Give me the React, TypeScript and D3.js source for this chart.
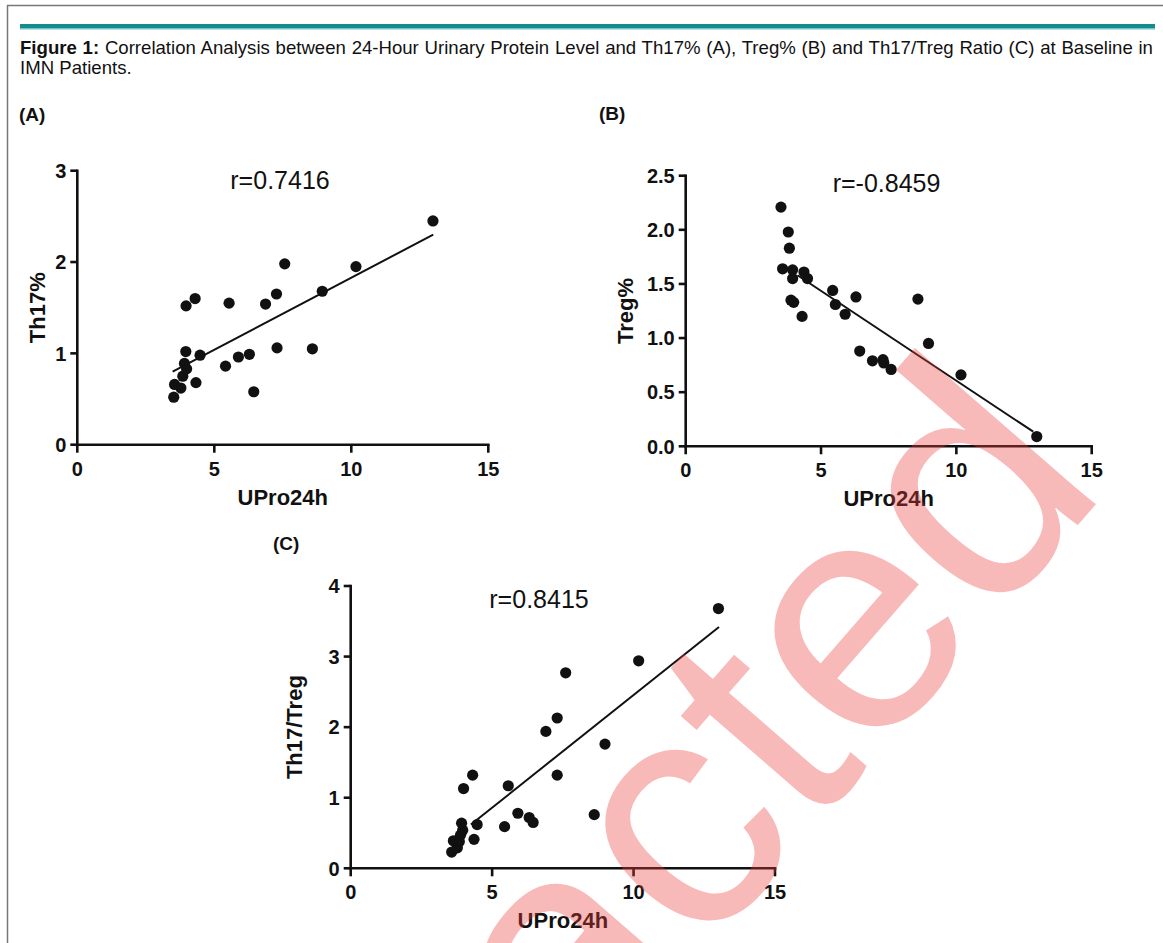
import React from "react";
import * as d3 from "d3";

// ---------- data ----------
const xTicks = [0, 5, 10, 15];

const aTicks = [0, 1, 2, 3];
const aX = [3.52, 3.55, 3.78, 3.85, 3.91, 3.99, 3.96, 3.97, 4.3, 4.33, 4.48, 5.41, 5.54, 5.88, 6.28, 6.44, 6.87, 7.27, 7.29, 7.57, 8.58, 8.94, 10.17, 12.98];
const aY = [0.52, 0.66, 0.62, 0.75, 0.89, 0.83, 1.02, 1.52, 1.6, 0.68, 0.98, 0.86, 1.55, 0.96, 0.99, 0.58, 1.54, 1.65, 1.06, 1.98, 1.05, 1.68, 1.95, 2.45];
const aFitX = [3.48, 12.99];
const aFitY = [0.8, 2.3];

const bTicks = [0, 0.5, 1.0, 1.5, 2.0, 2.5];
const bX = [3.52, 3.79, 3.83, 3.58, 3.95, 3.95, 3.89, 3.99, 4.37, 4.5, 4.3, 5.43, 5.53, 5.89, 6.29, 6.43, 6.9, 7.29, 7.32, 7.59, 8.58, 8.97, 10.17, 12.97];
const bY = [2.21, 1.98, 1.83, 1.64, 1.63, 1.55, 1.35, 1.33, 1.61, 1.55, 1.2, 1.44, 1.31, 1.22, 1.38, 0.88, 0.79, 0.8, 0.77, 0.71, 1.36, 0.95, 0.66, 0.09];
const bFitX = [4.13, 12.84];
const bFitY = [1.58, 0.135];

const cTicks = [0, 1, 2, 3, 4];
const cX = [3.57, 3.63, 3.77, 3.84, 3.92, 3.96, 3.88, 3.99, 4.31, 4.36, 4.47, 5.44, 5.57, 5.91, 6.31, 6.45, 6.9, 7.3, 7.3, 7.6, 8.61, 8.99, 10.18, 13.0];
const cY = [0.23, 0.39, 0.29, 0.38, 0.64, 0.54, 0.47, 1.13, 1.32, 0.41, 0.62, 0.59, 1.17, 0.78, 0.72, 0.65, 1.94, 2.13, 1.32, 2.77, 0.76, 1.76, 2.94, 3.68];
const cFitX = [4.25, 13.02];
const cFitY = [0.62, 3.42];

const captionBold = "Figure 1:";
const captionLine1 = " Correlation Analysis between 24-Hour Urinary Protein Level and Th17% (A), Treg% (B) and Th17/Treg Ratio (C) at Baseline in";
const captionLine2 = "IMN Patients.";

const FONT = "'Liberation Sans', Arial, Helvetica, sans-serif";

type PanelProps = {
  left: number; right: number; top: number; bottom: number;
  yMax: number; yTicks: number[]; yFmt: (v: number) => string;
  xs: number[]; ys: number[]; fitX: number[]; fitY: number[];
  yTitle: string; yTitleOffset: number;
  rText: string; rX: number; rY: number;
};

function Panel(p: PanelProps) {
  const x = d3.scaleLinear().domain([0, 15]).range([p.left, p.right]);
  const y = d3.scaleLinear().domain([0, p.yMax]).range([p.bottom, p.top]);
  const line = d3.line<[number, number]>().x((d) => x(d[0])).y((d) => y(d[1]));
  const fitPts: [number, number][] = p.fitX.map((v, i) => [v, p.fitY[i]]);
  const sw = 2.6;
  return (
    <g fontFamily={FONT}>
      <line x1={x(0)} x2={x(0)} y1={y(0) + sw / 2} y2={y(p.yMax) - sw / 2} stroke="#111" strokeWidth={sw} />
      <line x1={x(0) - sw / 2} x2={x(15) + sw / 2} y1={y(0)} y2={y(0)} stroke="#111" strokeWidth={sw} />
      {p.yTicks.map((t) => (
        <g key={"y" + t}>
          <line x1={x(0) - 7} x2={x(0)} y1={y(t)} y2={y(t)} stroke="#111" strokeWidth={sw} />
          <text x={x(0) - 11} y={y(t)} dy="0.36em" textAnchor="end" fontSize={20} fontWeight="bold" fill="#111">
            {p.yFmt(t)}
          </text>
        </g>
      ))}
      {xTicks.map((t) => (
        <g key={"x" + t}>
          <line x1={x(t)} x2={x(t)} y1={y(0)} y2={y(0) + 8} stroke="#111" strokeWidth={sw} />
          <text x={x(t)} y={y(0) + 31} textAnchor="middle" fontSize={20} fontWeight="bold" fill="#111">
            {t}
          </text>
        </g>
      ))}
      <text x={(x(0) + x(15)) / 2} y={y(0) + 60} textAnchor="middle" fontSize={22} fontWeight="bold" fill="#111">
        UPro24h
      </text>
      <text
        transform={`translate(${x(0) - p.yTitleOffset},${(y(0) + y(p.yMax)) / 2}) rotate(-90)`}
        textAnchor="middle" fontSize={22} fontWeight="bold" fill="#111"
      >
        {p.yTitle}
      </text>
      <text x={p.rX} y={p.rY} textAnchor="middle" fontSize={25} fill="#111">
        {p.rText}
      </text>
      <path d={line(fitPts) || ""} stroke="#111" strokeWidth={2} fill="none" />
      {p.xs.map((v, i) => (
        <circle key={i} cx={x(v)} cy={y(p.ys[i])} r={5.6} fill="#111" />
      ))}
    </g>
  );
}

export default function App() {
  const W = 1163, H = 943;
  return (
    <svg width={W} height={H} style={{ position: "absolute", left: 0, top: 0, background: "#fff" }}>
      <rect x={0} y={0} width={W} height={H} fill="#fff" />
      <line x1={7.5} x2={7.5} y1={5} y2={H} stroke="#777" strokeWidth={1.5} />
      <line x1={7} x2={W} y1={5.5} y2={5.5} stroke="#777" strokeWidth={1.5} />
      <rect x={20} y={24} width={1135} height={4} fill="#138c8d" />
      <rect x={20} y={28} width={1135} height={1.5} fill="#7cc2c2" />
      <text x={20} y={54} fontFamily={FONT} fontSize={18.6} fill="#111" wordSpacing={0.6}>
        <tspan fontWeight="bold">{captionBold}</tspan>
        <tspan>{captionLine1}</tspan>
      </text>
      <text x={20} y={74} fontFamily={FONT} fontSize={18.6} fill="#111">
        {captionLine2}
      </text>
      <text x={19} y={121} fontFamily={FONT} fontSize={19} fontWeight="bold" fill="#111">(A)</text>
      <text x={599} y={120} fontFamily={FONT} fontSize={19} fontWeight="bold" fill="#111">(B)</text>
      <text x={273} y={550} fontFamily={FONT} fontSize={19} fontWeight="bold" fill="#111">(C)</text>

      <Panel left={77.3} right={488.3} top={170.7} bottom={444.7} yMax={3} yTicks={aTicks} yFmt={(v) => d3.format("d")(v)}
        xs={aX} ys={aY} fitX={aFitX} fitY={aFitY} yTitle="Th17%" yTitleOffset={32} rText="r=0.7416" rX={280} rY={189} />
      <Panel left={685.7} right={1091.7} top={175.7} bottom={446.3} yMax={2.5} yTicks={bTicks} yFmt={(v) => d3.format(".1f")(v)}
        xs={bX} ys={bY} fitX={bFitX} fitY={bFitY} yTitle="Treg%" yTitleOffset={53} rText="r=-0.8459" rX={886.5} rY={191.5} />
      <Panel left={350.7} right={775} top={586} bottom={868.3} yMax={4} yTicks={cTicks} yFmt={(v) => d3.format("d")(v)}
        xs={cX} ys={cY} fitX={cFitX} fitY={cFitY} yTitle="Th17/Treg" yTitleOffset={49} rText="r=0.8415" rX={539} rY={608} />

      <text transform="translate(1110,488) rotate(-49)" textAnchor="end" fontFamily={FONT} fontSize={330}
        fill="rgb(235,60,60)" fillOpacity={0.36}>
        Retracted
      </text>
    </svg>
  );
}
